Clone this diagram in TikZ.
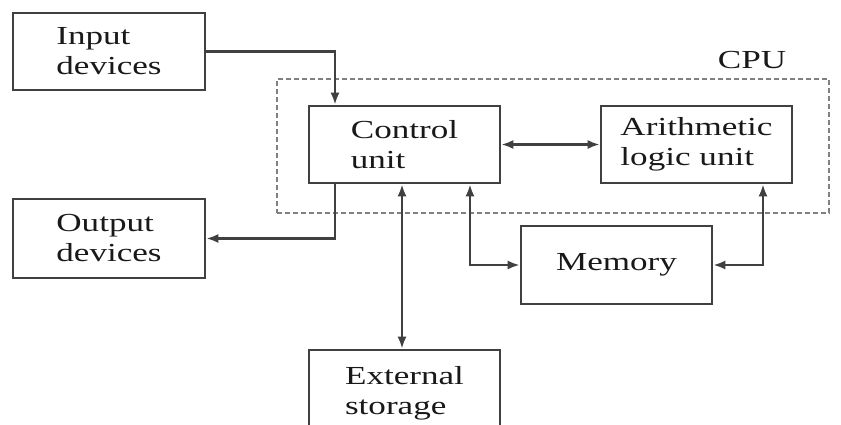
\documentclass[tikz,border=0pt]{standalone}
\usepackage{fontspec}
\usepackage{graphicx}
\setmainfont{Liberation Serif}
\usetikzlibrary{arrows.meta}
\newcommand\wide[1]{\scalebox{1.35}[1]{#1}}
\begin{document}
\begin{tikzpicture}[x=1pt,y=-1pt,
  box/.style={draw=black!75, line width=2.6pt, rectangle, inner sep=0pt,
    text=black!90, align=left, font=\fontsize{26}{30}\selectfont},
  cpubox/.style={draw=black!50, line width=2pt, dash pattern=on 5pt off 3pt, rectangle, inner sep=0pt},
  conn/.style={draw=black!75, line width=2.3pt},
  tip/.style={-{Latex[length=12pt,width=9pt]}},
  tips/.style={{Latex[length=12pt,width=9pt]}-{Latex[length=12pt,width=9pt]}}]
\clip (0,0) rectangle (841,425);
\fill[white] (0,0) rectangle (841,425);
\node[cpubox, minimum width=552pt, minimum height=134pt] (cpu) at (553,146) {};
\node[text=black!90, font=\fontsize{26}{30}\selectfont] (cpulabel) at (752,60) {\wide{CPU}};
\node[box, minimum width=192pt, minimum height=77pt] (in) at (109,51.5) {\wide{Input}\\\wide{devices}};
\node[box, minimum width=192pt, minimum height=79pt] (out) at (109,238.5) {\wide{Output}\\\wide{devices}};
\node[box, minimum width=191pt, minimum height=77pt] (cu) at (404.5,144.5) {\wide{Control}\\\wide{unit}\hspace{38pt}};
\node[box, minimum width=191pt, minimum height=77pt] (alu) at (696.5,144.5) {\wide{Arithmetic}\\\wide{logic unit}};
\node[box, minimum width=191pt, minimum height=78pt] (mem) at (616.5,265) {\wide{Memory}};
\node[box, minimum width=191pt, minimum height=86pt] (ext) at (404.5,393) {\wide{External}\\\wide{storage}};
\draw[conn, tip] (in.east) -| ([xshift=-69.5pt]cu.north);
\draw[conn, tip] ([xshift=-69.5pt]cu.south) |- (out.east);
\draw[conn, tips] (cu.east) -- (alu.west);
\draw[conn, tips] ([xshift=-2.5pt]cu.south) -- ([xshift=-2.5pt]ext.north);
\draw[conn, tips] ([xshift=65.5pt]cu.south) |- (mem.west);
\draw[conn, tips] ([xshift=66.5pt]alu.south) |- (mem.east);
\end{tikzpicture}
\end{document}
